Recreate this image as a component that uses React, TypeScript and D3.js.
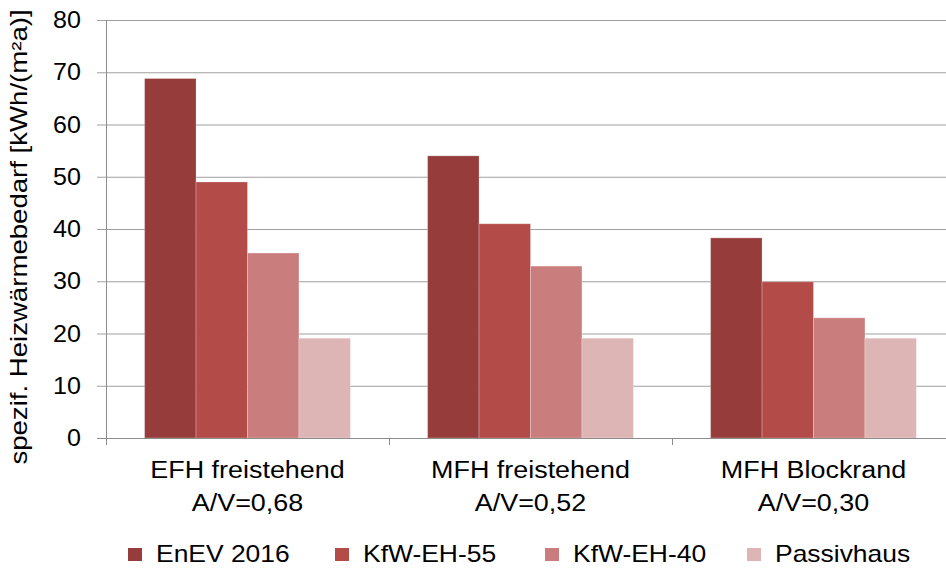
import React from "react";
import * as d3 from "d3";

const categories = ["EFH freistehend|A/V=0,68", "MFH freistehend|A/V=0,52", "MFH Blockrand|A/V=0,30"];
const seriesNames = ["EnEV 2016", "KfW-EH-55", "KfW-EH-40", "Passivhaus"];
const enev2016 = [68.8, 54.0, 38.3];
const kfw55 = [49.0, 41.0, 29.9];
const kfw40 = [35.4, 32.9, 23.0];
const passivhaus = [19.1, 19.1, 19.1];
const yTicks = [0, 10, 20, 30, 40, 50, 60, 70, 80];
const colors = ["#963C3B", "#B34B49", "#C97D7C", "#DDB5B5"];
const yTitle = "spezif. Heizwärmebedarf [kWh/(m²a)]";

const W = 946;
const H = 568;

export default function App() {
  const values = [enev2016, kfw55, kfw40, passivhaus];
  const y = d3.scaleLinear().domain([0, 80]).range([438, 20]);
  const x0 = d3.scaleBand<string>().domain(categories).range([106, 955]).paddingInner(0).paddingOuter(0);
  const bw = x0.bandwidth();
  const gap = (bw * 0.75) / 5.5;
  const x1 = d3.scaleBand<string>().domain(seriesNames).range([gap, bw - gap]).padding(0);
  const font = "'Liberation Sans', Arial, sans-serif";
  const gridColor = "#a0a0a0";
  const legendX = [128, 335, 545, 747];
  const boundaries = categories.map((c) => x0(c)!).concat([x0.range()[1]]);

  return (
    <svg
      width={W}
      height={H}
      style={{ position: "fixed", left: 0, top: 0, background: "#fff" }}
      fontFamily={font}
    >
      <rect x={0} y={0} width={W} height={H} fill="#fff" />
      {/* gridlines */}
      {yTicks.map((t) => (
        <line key={"g" + t} x1={97} x2={W} y1={y(t) + 0.5} y2={y(t) + 0.5} stroke={gridColor} strokeWidth={1} />
      ))}
      {/* y axis */}
      <line x1={106.5} x2={106.5} y1={y(80)} y2={445} stroke="#8c8c8c" strokeWidth={1} />
      {/* category ticks */}
      {boundaries.map((b, i) => (
        <line key={"ct" + i} x1={b + 0.5} x2={b + 0.5} y1={y(0)} y2={445} stroke="#8c8c8c" strokeWidth={1} />
      ))}
      {/* bars */}
      {categories.map((c, ci) => (
        <g key={c} transform={`translate(${x0(c)},0)`}>
          {seriesNames.map((s, si) => {
            const v = values[si][ci];
            return (
              <rect
                key={s}
                x={x1(s)!}
                y={y(v)}
                width={x1.bandwidth()}
                height={y(0) - y(v)}
                fill={colors[si]}
                stroke="rgba(255,255,255,0.25)"
                strokeWidth={1}
              />
            );
          })}
        </g>
      ))}
      {/* baseline */}
      <line x1={97} x2={W} y1={y(0) + 0.5} y2={y(0) + 0.5} stroke="#8c8c8c" strokeWidth={1} />
      {/* y tick labels */}
      {yTicks.map((t) => (
        <text
          key={"yl" + t}
          transform={`translate(81,${y(t) + 8}) scale(1.09,1)`}
          textAnchor="end"
          fontSize={23}
          fill="#000"
        >
          {t}
        </text>
      ))}
      {/* y title */}
      <text
        transform={`translate(27,${237}) rotate(-90) scale(1.2,1)`}
        textAnchor="middle"
        fontSize={23}
        fill="#000"
      >
        {yTitle}
      </text>
      {/* category labels */}
      {categories.map((c) => {
        const [l1, l2] = c.split("|");
        const cx = x0(c)! + bw / 2;
        return (
          <g key={"cl" + c}>
            <text transform={`translate(${cx},478) scale(1.17,1)`} textAnchor="middle" fontSize={23} fill="#000">
              {l1}
            </text>
            <text transform={`translate(${cx},511) scale(1.17,1)`} textAnchor="middle" fontSize={23} fill="#000">
              {l2}
            </text>
          </g>
        );
      })}
      {/* legend */}
      {seriesNames.map((s, i) => (
        <g key={"lg" + s}>
          <rect x={legendX[i]} y={548} width={14} height={13} fill={colors[i]} />
          <text transform={`translate(${legendX[i] + 28},562) scale(1.15,1)`} fontSize={23} fill="#000">
            {s}
          </text>
        </g>
      ))}
    </svg>
  );
}
